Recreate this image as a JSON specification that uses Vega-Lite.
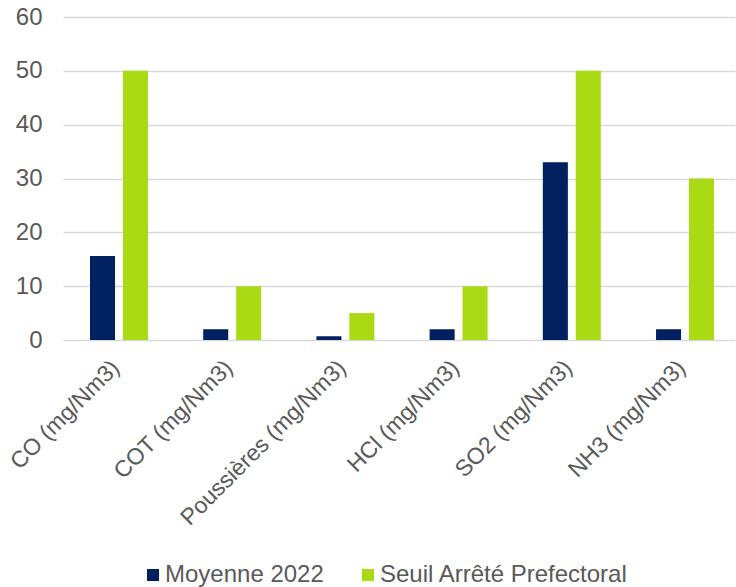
{
  "$schema": "https://vega.github.io/schema/vega-lite/v6.json",
  "autosize": {"type": "none"},
  "padding": {"left": 63, "top": 17, "right": 1, "bottom": 247},
  "width": 672,
  "height": 323,
  "background": "white",
  "data": {
    "values": [
      {"param": "CO (mg/Nm3)", "serie": "Moyenne 2022", "valeur": 15.6},
      {"param": "CO (mg/Nm3)", "serie": "Seuil Arrêté Prefectoral", "valeur": 50},
      {"param": "COT (mg/Nm3)", "serie": "Moyenne 2022", "valeur": 2},
      {"param": "COT (mg/Nm3)", "serie": "Seuil Arrêté Prefectoral", "valeur": 10},
      {"param": "Poussières (mg/Nm3)", "serie": "Moyenne 2022", "valeur": 0.7},
      {"param": "Poussières (mg/Nm3)", "serie": "Seuil Arrêté Prefectoral", "valeur": 5},
      {"param": "HCl (mg/Nm3)", "serie": "Moyenne 2022", "valeur": 2},
      {"param": "HCl (mg/Nm3)", "serie": "Seuil Arrêté Prefectoral", "valeur": 10},
      {"param": "SO2 (mg/Nm3)", "serie": "Moyenne 2022", "valeur": 33},
      {"param": "SO2 (mg/Nm3)", "serie": "Seuil Arrêté Prefectoral", "valeur": 50},
      {"param": "NH3 (mg/Nm3)", "serie": "Moyenne 2022", "valeur": 2},
      {"param": "NH3 (mg/Nm3)", "serie": "Seuil Arrêté Prefectoral", "valeur": 30}
    ]
  },
  "mark": {"type": "bar"},
  "encoding": {
    "x": {
      "field": "param",
      "type": "nominal",
      "sort": null,
      "scale": {"paddingInner": 0.488, "paddingOuter": 0.212, "align": 0.5625},
      "axis": {
        "title": null,
        "labelAngle": -45,
        "labelFontSize": 23,
        "labelColor": "#595959",
        "labelPadding": 16,
        "labelOffset": -11,
        "labelLimit": 400,
        "domain": false,
        "ticks": false
      }
    },
    "xOffset": {
      "field": "serie",
      "type": "nominal",
      "scale": {"paddingInner": 0.24, "paddingOuter": 0}
    },
    "y": {
      "field": "valeur",
      "type": "quantitative",
      "scale": {"domain": [0, 60], "nice": false},
      "axis": {
        "title": null,
        "values": [0, 10, 20, 30, 40, 50, 60],
        "labelFontSize": 24,
        "labelColor": "#595959",
        "labelPadding": 21,
        "domain": false,
        "ticks": false,
        "gridColor": "#D9D9D9",
        "gridWidth": 1.5
      }
    },
    "color": {
      "field": "serie",
      "type": "nominal",
      "scale": {"range": ["#002060", "#A9DA14"]},
      "legend": {
        "title": null,
        "orient": "none",
        "direction": "horizontal",
        "legendX": 78,
        "legendY": 546,
        "symbolType": "square",
        "symbolSize": 144,
        "symbolStrokeWidth": 0,
        "labelFontSize": 24,
        "labelColor": "#595959",
        "labelOffset": 0,
        "labelLimit": 400,
        "columnPadding": 32
      }
    }
  },
  "config": {
    "font": "Liberation Sans",
    "view": {"stroke": null}
  }
}
